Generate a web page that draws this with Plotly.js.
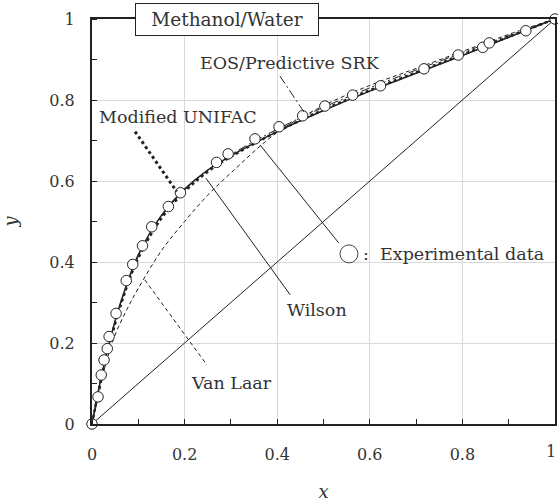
<!DOCTYPE html>
<html>
<head>
<meta charset="utf-8">
<script src="https://cdn.plot.ly/plotly-3.0.1.min.js"></script>
<style>html,body{margin:0;padding:0;background:#fff;}#chart{width:558px;height:502px;}</style>
</head>
<body>
<div id="chart"></div>
<script>
// Experimental data (methanol/water, x-y)
const expX = [0, 0.013, 0.020, 0.026, 0.033, 0.037, 0.052, 0.074, 0.088, 0.109, 0.129, 0.165, 0.191, 0.269, 0.294, 0.352, 0.404, 0.455, 0.503, 0.563, 0.623, 0.717, 0.791, 0.844, 0.858, 0.937, 1.0];
const expY = [0, 0.067, 0.121, 0.158, 0.186, 0.216, 0.273, 0.354, 0.394, 0.440, 0.487, 0.537, 0.571, 0.646, 0.667, 0.704, 0.734, 0.761, 0.785, 0.812, 0.835, 0.877, 0.911, 0.930, 0.941, 0.971, 1.0];

// Model curves
const modelX   = [0, 0.01, 0.02, 0.03, 0.05, 0.075, 0.1, 0.15, 0.2, 0.25, 0.3, 0.4, 0.5, 0.6, 0.7, 0.8, 0.9, 1.0];
const wilsonY  = [0, 0.060, 0.115, 0.165, 0.255, 0.345, 0.418, 0.515, 0.580, 0.627, 0.662, 0.722, 0.774, 0.822, 0.866, 0.910, 0.955, 1.0];
const unifacY  = [0, 0.058, 0.112, 0.160, 0.248, 0.338, 0.410, 0.508, 0.574, 0.623, 0.660, 0.722, 0.776, 0.824, 0.868, 0.912, 0.956, 1.0];
const srkY     = [0, 0.062, 0.117, 0.166, 0.254, 0.342, 0.414, 0.512, 0.578, 0.627, 0.665, 0.728, 0.782, 0.830, 0.874, 0.917, 0.959, 1.0];
const vanLaarY = [0, 0.050, 0.100, 0.150, 0.220, 0.282, 0.335, 0.428, 0.500, 0.565, 0.620, 0.720, 0.786, 0.836, 0.878, 0.920, 0.962, 1.0];
const diagX    = [0, 1];
const diagY    = [0, 1];

// Tick labels
const tickVals  = [0, 0.2, 0.4, 0.6, 0.8, 1];
const yTickText = ['0', '0.2', '0.4', '0.6', '0.8', '1'];
const xTickText = ['0', '0.2', '0.4', '0.6', '0.8', ''];   // last label "1" drawn as annotation to keep it inside the page
const xLastLabel = '1';

const ink = '#222';
const txt = '#333';
const serif = '"DejaVu Serif", "Liberation Serif", serif';

const traces = [
  {x: diagX, y: diagY, mode: 'lines', line: {color: ink, width: 1}, hoverinfo: 'skip'},
  {x: modelX, y: vanLaarY, mode: 'lines', line: {color: ink, width: 1, dash: '4px,3px', shape: 'spline'}},
  {x: modelX, y: srkY, mode: 'lines', line: {color: ink, width: 1, dash: '9px,3px,2px,3px', shape: 'spline'}},
  {x: modelX, y: unifacY, mode: 'lines', line: {color: ink, width: 2.5, dash: 'dot', shape: 'spline'}},
  {x: modelX, y: wilsonY, mode: 'lines', line: {color: ink, width: 1.5, shape: 'spline'}},
  {x: expX, y: expY, mode: 'markers', cliponaxis: false,
   marker: {symbol: 'circle', size: 10.5, color: '#fff', line: {color: ink, width: 1}}}
];

function ann(text, x, y, extra) {
  return Object.assign({text: text, x: x, y: y, xref: 'x', yref: 'y', showarrow: false,
    xanchor: 'center', yanchor: 'middle',
    font: {family: serif, size: 17.5, color: txt}}, extra || {});
}

const annotations = [
  {text: 'Methanol/Water', xref: 'paper', yref: 'paper', x: 0.2916, y: 1.0, showarrow: false,
   xanchor: 'center', yanchor: 'middle',
   font: {family: serif, size: 18.5, color: txt}, bgcolor: '#fff', bordercolor: ink, borderwidth: 1,
   width: 180, height: 29, borderpad: 1},
  ann('EOS/Predictive SRK', 0.428, 0.891),
  ann('Modified UNIFAC', 0.186, 0.758),
  ann('Wilson', 0.485, 0.281),
  ann('Van Laar', 0.302, 0.101),
  ann(':  Experimental data', 0.582, 0.42, {xanchor: 'left'}),
  {text: xLastLabel, xref: 'x', yref: 'paper', x: 1, y: -0.069, xanchor: 'right', yanchor: 'middle',
   xshift: 3, showarrow: false, font: {family: serif, size: 16, color: txt}}
];

function lead(x0, y0, x1, y1, width, dash) {
  return {type: 'line', xref: 'x', yref: 'y', x0: x0, y0: y0, x1: x1, y1: y1, layer: 'above',
    line: {color: ink, width: width, dash: dash}};
}

const shapes = [
  lead(0.406, 0.859, 0.458, 0.770, 1, '9px,3px,2px,3px'),
  lead(0.093, 0.722, 0.183, 0.574, 3, 'dot'),
  lead(0.246, 0.607, 0.428, 0.319, 1, 'solid'),
  lead(0.114, 0.356, 0.248, 0.146, 1, '4px,3px'),
  lead(0.363, 0.689, 0.533, 0.447, 1, 'solid'),
  {type: 'circle', xref: 'x', yref: 'y', xsizemode: 'pixel', ysizemode: 'pixel',
   xanchor: 0.555, yanchor: 0.42, x0: -9, x1: 9, y0: -9, y1: 9, layer: 'above',
   fillcolor: '#fff', line: {color: '#444', width: 1}}
];

const axisCommon = {
  range: [0, 1], tickvals: tickVals,
  showgrid: true, gridcolor: '#d9d9d9', gridwidth: 1,
  showline: true, linecolor: ink, linewidth: 2, mirror: true,
  ticks: '', zeroline: false,
  tickfont: {family: serif, size: 16, color: txt},
  minor: {dtick: 0.1, tick0: 0, ticks: 'inside', ticklen: 5, tickcolor: ink, tickwidth: 1, showgrid: false},
  fixedrange: true
};

const layout = {
  width: 558, height: 502,
  margin: {l: 92, r: 3, t: 19, b: 78},
  paper_bgcolor: '#fff', plot_bgcolor: '#fff',
  showlegend: false,
  xaxis: Object.assign({}, axisCommon, {
    ticktext: xTickText,
    ticklabelstandoff: 15,
    title: {text: '<i>x</i>', font: {family: serif, size: 18, color: txt}, standoff: 29}
  }),
  yaxis: Object.assign({}, axisCommon, {
    ticktext: yTickText,
    ticklabelstandoff: 12,
    title: {text: '<i>y</i>', font: {family: serif, size: 18, color: txt}, standoff: 27}
  }),
  annotations: annotations,
  shapes: shapes
};

Plotly.newPlot('chart', traces, layout, {displayModeBar: false, staticPlot: true});
</script>
</body>
</html>
